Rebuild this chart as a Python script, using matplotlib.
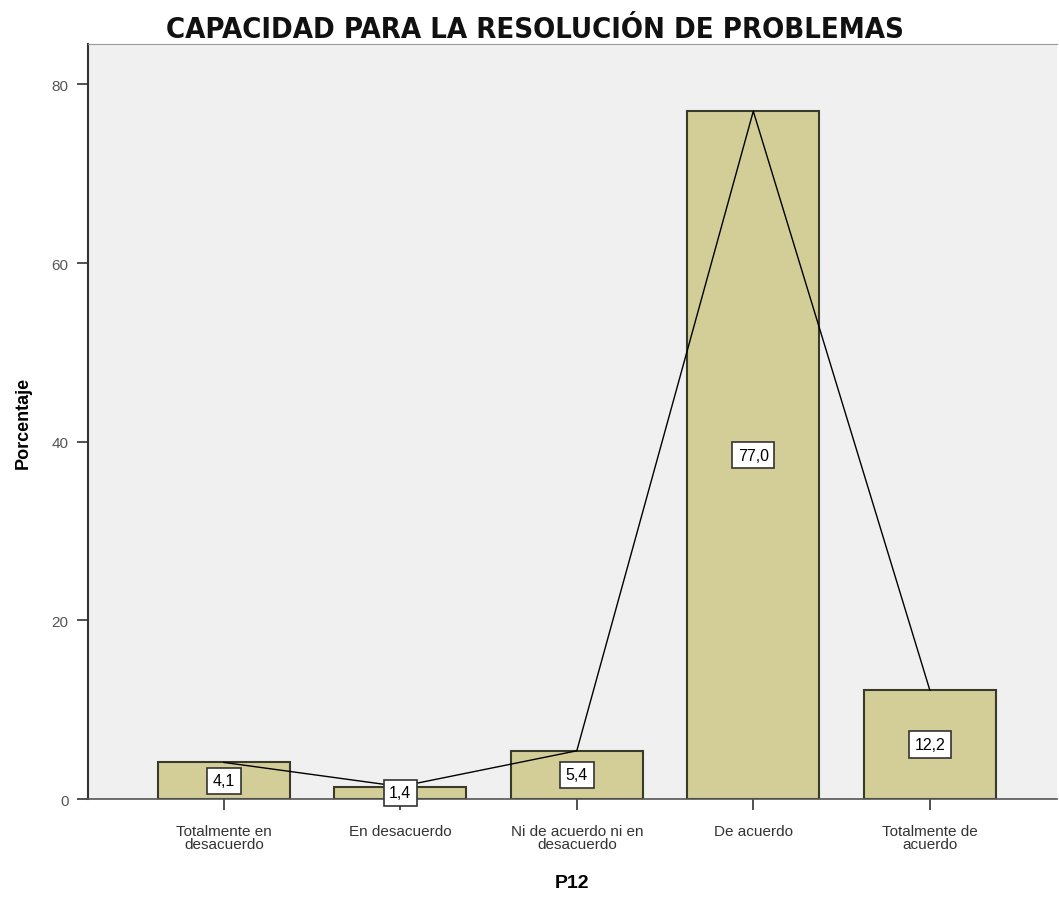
import matplotlib.pyplot as plt

categories = ['Totalmente en\ndesacuerdo', 'En desacuerdo', 'Ni de acuerdo ni en\ndesacuerdo',
              'De acuerdo', 'Totalmente de\nacuerdo']
percent = [4.1, 1.4, 5.4, 77.0, 12.2]
labels = ['4,1', '1,4', '5,4', '77,0', '12,2']

plt.rcParams['font.family'] = ['Liberation Sans', 'DejaVu Sans']

fig = plt.figure(figsize=(10.59, 9.04), dpi=100)
ax = fig.add_axes([0.083, 0.115, 0.915, 0.835])
ax.set_facecolor('#f0f0f0')

x = list(range(len(categories)))
ax.bar(x, percent, width=0.75, color='#d3ce97', edgecolor='#3a3a2a', linewidth=1.5, zorder=2)
ax.plot(x, percent, color='black', linewidth=1, zorder=3)
for xi, v, lab in zip(x, percent, labels):
    ax.text(xi, v / 2, lab, ha='center', va='center', fontsize=11.5, zorder=4,
            bbox=dict(boxstyle='square,pad=0.35', facecolor='white', edgecolor='#333333', linewidth=1.2))

ax.set_xlim(-0.77, 4.72)
ax.set_ylim(0, 84.5)
ax.set_yticks([0, 20, 40, 60, 80])
ax.set_xticks(x)
ax.set_xticklabels(categories, fontsize=11, linespacing=0.95)
ax.tick_params(axis='both', direction='out', length=8, width=1.2, colors='#333333', labelsize=11)
ax.tick_params(axis='x', pad=10)
ax.tick_params(axis='y', labelcolor='#555555', pad=6)

ax.spines['right'].set_visible(False)
ax.spines['top'].set_color('#999999')
ax.spines['left'].set_linewidth(1.5)
ax.spines['bottom'].set_linewidth(1.2)
ax.spines['left'].set_color('#333333')
ax.spines['bottom'].set_color('#555555')

ax.set_ylabel('Porcentaje', fontsize=13, fontweight='bold', labelpad=14)
ax.set_xlabel('P12', fontsize=14, fontweight='bold', labelpad=16)
fig.text(0.505, 0.967, 'CAPACIDAD PARA LA RESOLUCIÓN DE PROBLEMAS', ha='center', va='center',
         fontsize=21, family='DejaVu Sans', stretch='condensed', fontweight='bold', color='#111111')

plt.savefig('out.png', dpi=100)
